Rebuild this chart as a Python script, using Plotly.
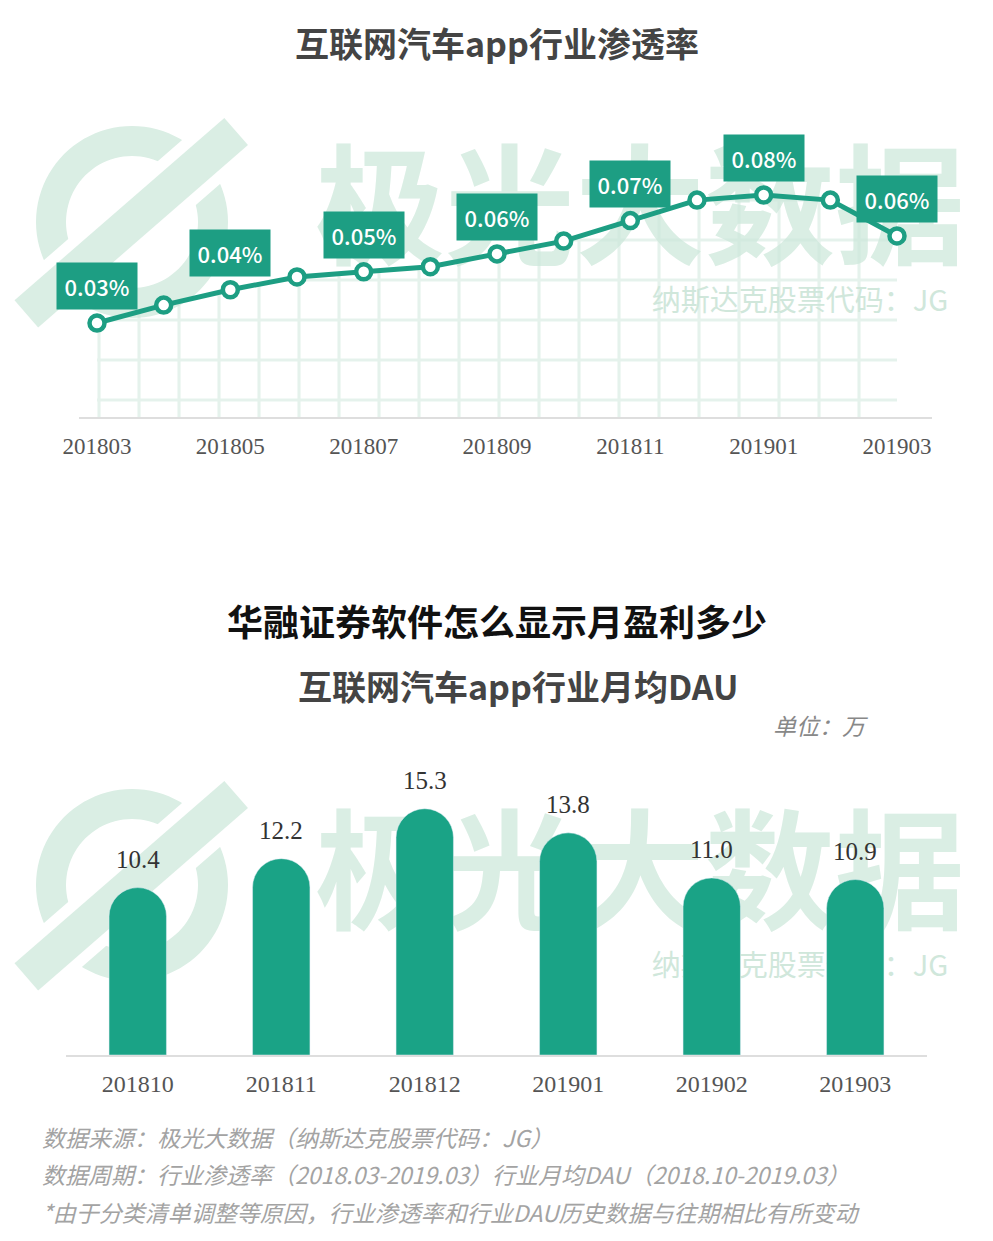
"""
互联网汽车app行业渗透率 + 行业月均DAU, two charts on one page.
"""

import numpy as np
import plotly.graph_objects as go

# page is 993x1241, the body keeps an 8px margin round the figure
PAD = 8
FW, FH = 993 - PAD, 1241 - PAD

# 行业渗透率 (%), 2018.03-2019.03
rate_months = ["201803", "201804", "201805", "201806", "201807", "201808", "201809",
               "201810", "201811", "201812", "201901", "201902", "201903"]
rate_values = [0.030, 0.037, 0.043, 0.048, 0.050, 0.052, 0.057,
               0.062, 0.070, 0.078, 0.080, 0.078, 0.064]

# 行业月均DAU (万), 2018.10-2019.03
dau_months = ["201810", "201811", "201812", "201901", "201902", "201903"]
dau_values = [10.4, 12.2, 15.3, 13.8, 11.0, 10.9]

TEAL = "#1aa386"
LINE = "#1d9e83"
MINT = "#daeee4"
GRID = "#cbe6d9"
CJK = "Noto Sans CJK SC"
SERIF = "Liberation Serif"

RATE_MIN, RATE_MAX = -0.0067, 0.1171


def fx(x):
    return (x - PAD) / FW


def fy(y):
    return 1 - (y - PAD) / FH


def poly(points):
    return "M" + "L".join(f"{fx(x):.5f},{fy(y):.5f}" for x, y in points) + "Z"


def logo(cx, cy):
    t = np.linspace(0, 2 * np.pi, 97)
    outer = [(cx + 96 * np.cos(a), cy - 96 * np.sin(a)) for a in t]
    inner = [(cx + 66 * np.cos(a), cy - 66 * np.sin(a)) for a in t[::-1]]
    ang = np.radians(41)
    d = np.array([np.cos(ang), -np.sin(ang)])
    n = np.array([np.sin(ang), np.cos(ang)])
    c = np.array([cx, cy])

    def band(w, a0, a1):
        return poly([c + a0 * d - w / 2 * n, c + a1 * d - w / 2 * n,
                     c + a1 * d + w / 2 * n, c + a0 * d + w / 2 * n])

    common = dict(type="path", xref="paper", yref="paper", layer="below", line_width=0)
    return [
        dict(path=poly(outer) + poly(inner), fillcolor=MINT, **common),
        dict(path=band(58, -142, 140), fillcolor="white", **common),
        dict(path=band(36, -140, 138), fillcolor=MINT, **common),
    ]


def watermark(cy):
    common = dict(type="rect", xref="paper", yref="paper", layer="below",
                  line_width=0, fillcolor="rgba(0,0,0,0)")
    return [
        dict(x0=fx(300), x1=fx(980), y0=fy(cy + 70), y1=fy(cy - 70),
             label=dict(text="极光大数据", textposition="middle center",
                        font=dict(family=CJK, size=130, color=MINT, weight=700)),
             **common),
        dict(x0=fx(640), x1=fx(960), y0=fy(cy + 100), y1=fy(cy + 70),
             label=dict(text="纳斯达克股票代码：JG", textposition="middle center",
                        font=dict(family=CJK, size=29, color="#d0e7db")),
             **common),
    ]


fig = go.Figure()

# floor of the top axis, used as the lower edge of the grid fill
fig.add_trace(go.Scatter(
    x=list(range(len(rate_months))), y=[RATE_MIN] * len(rate_months),
    mode="lines", line=dict(width=0), hoverinfo="skip", showlegend=False,
    xaxis="x", yaxis="y",
))
fig.add_trace(go.Scatter(
    x=list(range(len(rate_months))), y=rate_values,
    mode="lines+markers", fill="tonexty", fillcolor="rgba(0,0,0,0)",
    fillpattern=dict(shape="+", size=40, solidity=0.15, fgcolor=GRID,
                     bgcolor="rgba(0,0,0,0)"),
    line=dict(color=LINE, width=5),
    marker=dict(size=15, color="white", line=dict(color=LINE, width=4.5)),
    showlegend=False, xaxis="x", yaxis="y",
))

fig.add_trace(go.Bar(
    x=dau_months, y=dau_values, width=0.4,
    marker=dict(color=TEAL, cornerradius="50%"),
    showlegend=False, xaxis="x2", yaxis="y2",
))

annotations = []
for i in range(0, len(rate_months), 2):
    annotations.append(dict(
        x=i, y=rate_values[i], xref="x", yref="y", text=f"{rate_values[i]:.2f}%",
        showarrow=False, yanchor="middle", yshift=37, bgcolor=LINE,
        width=72, height=38, borderpad=4,
        font=dict(family=CJK, size=22, color="white", weight=500),
    ))
for i, v in enumerate(dau_values):
    annotations.append(dict(
        x=i, y=v, xref="x2", yref="y2", text=f"{v:.1f}", showarrow=False,
        yanchor="bottom", yshift=13, font=dict(family=SERIF, size=25, color="#333"),
    ))


def note(text, x, y, size, color, xanchor="center", weight=400, style="normal"):
    annotations.append(dict(
        x=fx(x), y=fy(y), xref="paper", yref="paper", text=text, showarrow=False,
        xanchor=xanchor, yanchor="middle",
        font=dict(family=CJK, size=size, color=color, weight=weight, style=style),
    ))


note("互联网汽车app行业渗透率", 497, 42, 34, "#444", weight=700)
note("华融证券软件怎么显示月盈利多少", 497, 620, 36, "#111", weight=700)
note("互联网汽车app行业月均DAU", 518, 685, 34, "#444", weight=700)
note("单位：万", 870, 725, 23, "#888", xanchor="right", style="italic")
note("数据来源：极光大数据（纳斯达克股票代码：JG）", 40, 1137, 23, "#a3a3a3",
     xanchor="left", style="italic")
note("数据周期：行业渗透率（2018.03-2019.03）行业月均DAU（2018.10-2019.03）", 40, 1174, 23,
     "#a3a3a3", xanchor="left", style="italic")
note("*由于分类清单调整等原因，行业渗透率和行业DAU历史数据与往期相比有所变动", 40, 1212, 23,
     "#a3a3a3", xanchor="left", style="italic")

shapes = logo(132, 222) + logo(132, 885) + watermark(218) + watermark(883)

fig.update_layout(
    width=FW, height=FH,
    margin=dict(l=0, r=0, t=0, b=0, autoexpand=False),
    paper_bgcolor="white", plot_bgcolor="rgba(0,0,0,0)",
    showlegend=False,
    annotations=annotations,
    shapes=shapes,
    xaxis=dict(
        domain=[fx(79), fx(932)], range=[-0.27, 12.525],
        tickmode="array", tickvals=list(range(0, len(rate_months), 2)),
        ticktext=rate_months[::2], showgrid=False, zeroline=False,
        showline=True, linecolor="#dedede", linewidth=2, ticks="",
        ticklabelstandoff=7, tickfont=dict(family=SERIF, size=23, color="#555"),
        anchor="y", automargin=False,
    ),
    yaxis=dict(
        domain=[fy(417), fy(100)], range=[RATE_MIN, RATE_MAX],
        visible=False, anchor="x", automargin=False,
    ),
    xaxis2=dict(
        domain=[fx(66), fx(927)], type="category", range=[-0.5, len(dau_months) - 0.5],
        showgrid=False, zeroline=False, showline=True, linecolor="#dedede",
        linewidth=2, ticks="", ticklabelstandoff=6,
        tickfont=dict(family=SERIF, size=24, color="#555"),
        anchor="y2", automargin=False,
    ),
    yaxis2=dict(
        domain=[fy(1055), fy(740)], range=[0, 19.57],
        visible=False, anchor="x2", automargin=False,
    ),
)

fig.write_html("out.html")
